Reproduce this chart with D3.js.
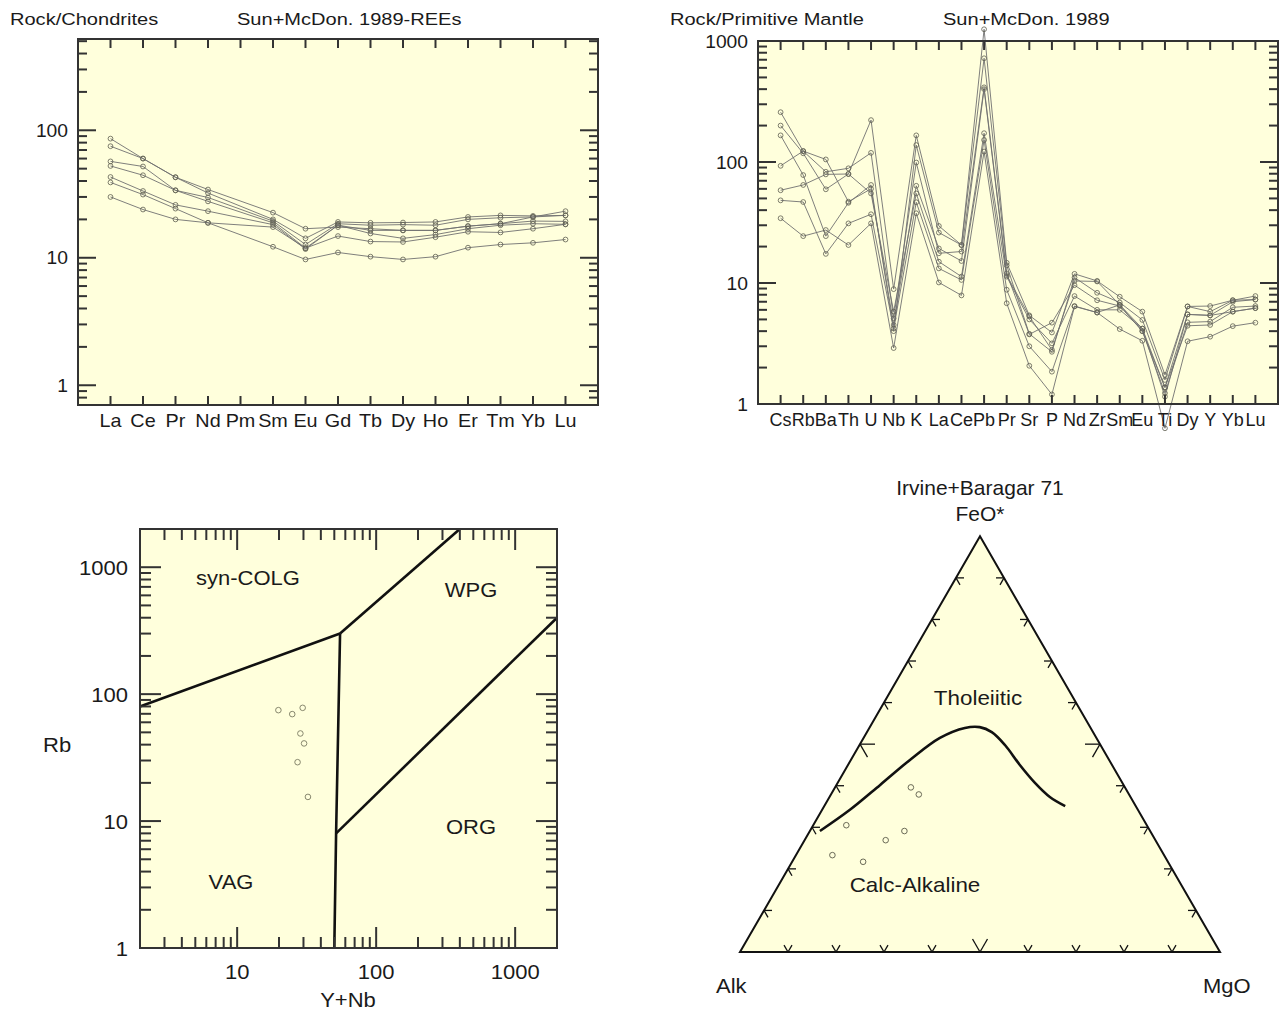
<!DOCTYPE html>
<html lang="en">
<head>
<meta charset="UTF-8">
<title>Geochemical diagrams</title>
<script src="https://d3js.org/d3.v7.min.js"></script>
<style>
  body { margin: 0; background: #fff; }
  text { font-family: "Liberation Sans", Arial, sans-serif; fill: #1a1a1a; }
</style>
</head>
<body>
<svg width="1288" height="1010"></svg>
<script>
// ---- REE spider (chondrite normalised) ----
const reeElements = ["La","Ce","Pr","Nd","Pm","Sm","Eu","Gd","Tb","Dy","Ho","Er","Tm","Yb","Lu"];
const reeA = [86, 60, 42.8, 34.3, null, 22.6, 16.9, 17.4, 16.9, 16.4, 16.4, 17.7, 18.5, 20.9, 23.2];
const reeB = [75, 60, 42.8, 32.2, null, 20.0, 14.2, 19.1, 18.8, 18.9, 19.1, 20.9, 21.5, 21.3, 21.5];
const reeC = [57, 52, 33.8, 29.7, null, 19.4, 12.7, 18.5, 18.0, 18.2, 18.0, 20.0, 20.6, 20.9, 21.5];
const reeD = [52.5, 44.4, 33.8, 27.7, null, 18.8, 11.9, 18.0, 16.4, 16.4, 16.4, 17.7, 18.5, 19.4, 19.3];
const reeE = [43, 33.4, 26, 23.2, null, 18.2, 11.7, 18.0, 15.5, 14.2, 15.2, 16.9, 18.0, 18.5, 18.3];
const reeF = [39, 31.3, 24.3, 18.8, null, 17.4, 11.9, 14.8, 13.4, 13.3, 14.5, 16.0, 15.8, 16.9, 18.3];
const reeG = [30, 23.9, 20, 18.8, null, 12.2, 9.7, 11.0, 10.2, 9.7, 10.2, 12.0, 12.7, 13.1, 13.9];
const reeYTicks = ["1", "10", "100"];

// ---- multi-element spider (primitive mantle normalised) ----
const pmElements = ["Cs","Rb","Ba","Th","U","Nb","K","La","Ce","Pb","Pr","Sr","P","Nd","Zr","Sm","Eu","Ti","Dy","Y","Yb","Lu"];
const pmA = [258, 123, 105, 47, 60, 4.5, 63.6, 19.3, 15.2, 400, 11.6, 5.3, 2.8, 10.4, 10.3, 6.6, 4.2, 1.37, 5.5, 5.4, 7.0, 7.3];
const pmB = [200, 118, 59.5, 79.6, 222, 8.9, 166, 29.6, 20.6, 1250, 14.7, 5.4, 3.9, 11.9, 10.4, 7.7, 5.8, 1.74, 6.4, 6.45, 7.2, 7.8];
const pmC = [166, 78, 24.4, 46, 64.6, 4.0, 138, 26.1, 20.6, 720, 14, 3.8, 2.7, 11.1, 8.3, 6.9, 4.95, 1.58, 6.4, 5.8, 7.2, 7.3];
const pmD = [93, 123, 83, 88.7, 119, 5.1, 99, 17.6, 18.2, 414, 12, 3.76, 4.7, 9.6, 7.2, 6.45, 4.0, 1.23, 4.73, 4.8, 6.3, 6.45];
const pmE = [58.4, 64.6, 79, 79.6, 55, 5.8, 55, 15, 11.3, 173, 11.3, 5.0, 3.17, 7.8, 6.0, 6.0, 4.2, 1.15, 5.5, 5.4, 5.8, 6.2];
const pmF = [48.2, 46.7, 17.4, 31.1, 37, 4.2, 46.5, 13.2, 10.6, 152, 8.8, 3.0, 1.85, 6.45, 5.7, 6.6, 4.0, 1.37, 4.43, 4.5, 5.8, 6.2];
const pmG = [34.3, 24.4, 27.4, 20.6, 31.1, 2.9, 37.7, 10.1, 7.9, 122, 6.8, 2.07, 1.2, 6.4, 5.7, 4.16, 3.33, 0.63, 3.3, 3.6, 4.4, 4.7];
const pmYTicks = ["1", "10", "100", "1000"];

// ---- Pearce et al. Rb vs Y+Nb ----
const sampleYNb = [19.8, 24.9, 29.6, 28.5, 30.3, 27.2, 32.3];
const sampleRb = [74.8, 69.6, 78, 49, 40.9, 29.1, 15.5];
const lineSynVag = [[2, 80], [55, 300]];
const lineSynWpg = [[55, 300], [400, 2000]];
const lineVagWpg = [[55, 300], [51.5, 8], [50, 1]];
const lineWpgOrg = [[51.5, 8], [2000, 400]];
const pearceTicks = ["1", "10", "100", "1000"];

// ---- AFM (Irvine & Baragar 1971), fractions ----
const afmA = [0.446, 0.438, 0.626, 0.512, 0.562, 0.692, 0.636];
const afmF = [0.396, 0.379, 0.305, 0.291, 0.269, 0.233, 0.217];
const afmM = [0.158, 0.183, 0.069, 0.197, 0.169, 0.076, 0.148];
const curveA = [0.688, 0.600, 0.508, 0.415, 0.326, 0.262, 0.229, 0.210, 0.199, 0.192, 0.182, 0.168, 0.147];
const curveF = [0.291, 0.342, 0.402, 0.462, 0.515, 0.539, 0.541, 0.529, 0.498, 0.450, 0.407, 0.373, 0.351];
const curveM = [0.021, 0.058, 0.091, 0.123, 0.159, 0.199, 0.229, 0.260, 0.303, 0.358, 0.411, 0.459, 0.502];

const svg = d3.select("svg");
const paper = "#ffffdc";
const frameCol = "#333";
const dataLine = "#707070";
const dataPt = "#5e5e50";

function txt(g, x, y, s, size, anchor, sx) {
  return g.append("text")
    .attr("transform", `translate(${x},${y}) scale(${sx || 1},1)`)
    .attr("text-anchor", anchor || "start")
    .attr("font-size", size)
    .text(s);
}

function logTicks(lo, hi) {
  const out = [];
  for (let e = Math.floor(Math.log10(lo)); e <= Math.ceil(Math.log10(hi)); e++) {
    for (let m = 1; m <= 9; m++) {
      const v = m * Math.pow(10, e);
      if (v >= lo * 0.999 && v <= hi * 1.001) out.push({ v: v, major: m === 1 });
    }
  }
  return out;
}

function tick(g, side, edge, p, len) {
  let x1, y1, x2, y2;
  if (side === "left") { x1 = edge; x2 = edge + len; y1 = y2 = p; }
  else if (side === "right") { x1 = edge; x2 = edge - len; y1 = y2 = p; }
  else if (side === "top") { y1 = edge; y2 = edge + len; x1 = x2 = p; }
  else { y1 = edge; y2 = edge - len; x1 = x2 = p; }
  g.append("line").attr("x1", x1).attr("y1", y1).attr("x2", x2).attr("y2", y2)
    .attr("stroke", frameCol).attr("stroke-width", 2);
}

// spider diagram panel
function spider(opts) {
  const g = svg.append("g");
  const x = d3.scalePoint().domain(opts.elements).range([opts.x0, opts.x1]).padding(1);
  const y = d3.scaleLog().domain(opts.ydom).range([opts.y1, opts.y0]);

  g.append("rect").attr("x", opts.x0).attr("y", opts.y0)
    .attr("width", opts.x1 - opts.x0).attr("height", opts.y1 - opts.y0)
    .attr("fill", paper);

  const line = d3.line().x(d => x(d.el)).y(d => y(d.v));
  opts.series.forEach(s => {
    const pts = s.map((v, i) => ({ el: opts.elements[i], v: v })).filter(d => d.v != null);
    g.append("path").datum(pts).attr("d", line)
      .attr("fill", "none").attr("stroke", dataLine).attr("stroke-width", 0.9);
    g.selectAll(null).data(pts).enter().append("circle")
      .attr("cx", d => x(d.el)).attr("cy", d => y(d.v)).attr("r", 2.4)
      .attr("fill", "none").attr("stroke", dataPt).attr("stroke-width", 0.8);
  });

  g.append("rect").attr("x", opts.x0).attr("y", opts.y0)
    .attr("width", opts.x1 - opts.x0).attr("height", opts.y1 - opts.y0)
    .attr("fill", "none").attr("stroke", frameCol).attr("stroke-width", 2);

  logTicks(opts.ydom[0], opts.ydom[1]).forEach(t => {
    tick(g, "left", opts.x0, y(t.v), t.major ? 18 : 9);
    tick(g, "right", opts.x1, y(t.v), t.major ? 18 : 9);
  });
  opts.elements.forEach(el => {
    tick(g, "top", opts.y0, x(el), 9);
    tick(g, "bottom", opts.y1, x(el), 9);
    txt(g, x(el), opts.y1 + 22, el, 18, "middle", opts.labelSx);
  });
  opts.yticks.forEach(t => {
    txt(g, opts.x0 - 10, y(+t) + 6.5, t, 18, "end", 1.07);
  });
  txt(g, opts.t1x, 25, opts.t1, 17, "start", 1.18);
  txt(g, opts.t2x, 25, opts.t2, 17, "start", 1.18);
}

spider({
  elements: reeElements, series: [reeA, reeB, reeC, reeD, reeE, reeF, reeG],
  x0: 78, x1: 598, y0: 39, y1: 405, ydom: [0.7, 520], yticks: reeYTicks, labelSx: 1.1,
  t1: "Rock/Chondrites", t1x: 10, t2: "Sun+McDon. 1989-REEs", t2x: 237
});

spider({
  elements: pmElements, series: [pmA, pmB, pmC, pmD, pmE, pmF, pmG],
  x0: 758, x1: 1278, y0: 41, y1: 404, ydom: [1, 1000], yticks: pmYTicks, labelSx: 1.0,
  t1: "Rock/Primitive Mantle", t1x: 670, t2: "Sun+McDon. 1989", t2x: 943
});

// ---- Pearce discrimination diagram ----
(function () {
  const g = svg.append("g");
  const x0 = 140, x1 = 557, y0 = 529, y1 = 948;
  const x = d3.scaleLog().domain([2, 2000]).range([x0, x1]);
  const y = d3.scaleLog().domain([1, 2000]).range([y1, y0]);

  g.append("rect").attr("x", x0).attr("y", y0).attr("width", x1 - x0).attr("height", y1 - y0)
    .attr("fill", paper);

  const line = d3.line().x(d => x(d[0])).y(d => y(d[1]));
  [lineSynVag, lineSynWpg, lineVagWpg, lineWpgOrg].forEach(l => {
    g.append("path").datum(l).attr("d", line)
      .attr("fill", "none").attr("stroke", "#111").attr("stroke-width", 2.6);
  });

  g.selectAll(null).data(sampleYNb).enter().append("circle")
    .attr("cx", d => x(d)).attr("cy", (d, i) => y(sampleRb[i])).attr("r", 2.8)
    .attr("fill", "none").attr("stroke", "#7a7a62").attr("stroke-width", 0.9);

  g.append("rect").attr("x", x0).attr("y", y0).attr("width", x1 - x0).attr("height", y1 - y0)
    .attr("fill", "none").attr("stroke", frameCol).attr("stroke-width", 2);

  logTicks(2, 2000).forEach(t => {
    tick(g, "top", y0, x(t.v), t.major ? 21 : 11);
    tick(g, "bottom", y1, x(t.v), t.major ? 21 : 11);
  });
  logTicks(1, 2000).forEach(t => {
    tick(g, "left", x0, y(t.v), t.major ? 21 : 11);
    tick(g, "right", x1, y(t.v), t.major ? 21 : 11);
  });
  pearceTicks.forEach(t => {
    txt(g, x0 - 12, y(+t) + 7.5, t, 20, "end", 1.1);
    if (+t >= 10) txt(g, x(+t), y1 + 31, t, 20, "middle", 1.1);
  });
  txt(g, 43, 752, "Rb", 20, "start", 1.1);
  txt(g, 348, 1007, "Y+Nb", 20, "middle", 1.1);
  txt(g, 196, 585, "syn-COLG", 20, "start", 1.1);
  txt(g, 471, 597, "WPG", 20, "middle", 1.1);
  txt(g, 471, 834, "ORG", 20, "middle", 1.1);
  txt(g, 231, 889, "VAG", 20, "middle", 1.1);
})();

// ---- AFM ternary ----
(function () {
  const g = svg.append("g");
  const side = 480;
  const tx = d3.scaleLinear().domain([0, 1]).range([740, 740 + side]);
  const ty = d3.scaleLinear().domain([0, 1]).range([952, 952 - side * Math.sqrt(3) / 2]);
  const pt = (a, f, m) => [tx(m + f / 2), ty(f)];

  const corners = [pt(1, 0, 0), pt(0, 1, 0), pt(0, 0, 1)];
  g.append("path").attr("d", "M" + corners.join("L") + "Z")
    .attr("fill", paper).attr("stroke", "#111").attr("stroke-width", 2);

  // ticks every 10 %
  const arm = (p, dx, dy, len) => g.append("line")
    .attr("x1", p[0]).attr("y1", p[1]).attr("x2", p[0] + dx * len).attr("y2", p[1] + dy * len)
    .attr("stroke", "#111").attr("stroke-width", 1.3);
  const c = Math.cos(Math.PI / 3), s = Math.sin(Math.PI / 3);
  d3.range(1, 10).forEach(k => {
    const f = k / 10, len = k === 5 ? 15 : 8;
    const pb = pt(1 - f, 0, f);
    arm(pb, c, -s, len); arm(pb, -c, -s, len);
    const pl = pt(1 - f, f, 0);
    arm(pl, 1, 0, len); arm(pl, c, s, len);
    const pr = pt(0, f, 1 - f);
    arm(pr, -1, 0, len); arm(pr, -c, s, len);
  });

  const curve = curveA.map((a, i) => pt(a, curveF[i], curveM[i]));
  g.append("path").datum(curve).attr("d", d3.line().curve(d3.curveCatmullRom))
    .attr("fill", "none").attr("stroke", "#111").attr("stroke-width", 2.6);

  g.selectAll(null).data(afmA).enter().append("circle")
    .attr("cx", (d, i) => pt(d, afmF[i], afmM[i])[0])
    .attr("cy", (d, i) => pt(d, afmF[i], afmM[i])[1])
    .attr("r", 2.8).attr("fill", "none").attr("stroke", "#5a5a48").attr("stroke-width", 0.9);

  txt(g, 980, 495, "Irvine+Baragar 71", 20, "middle", 1.05);
  txt(g, 980, 521, "FeO*", 20, "middle", 1.05);
  txt(g, 978, 705, "Tholeiitic", 20, "middle", 1.12);
  txt(g, 915, 892, "Calc-Alkaline", 20, "middle", 1.12);
  txt(g, 716, 993, "Alk", 20, "start", 1.1);
  txt(g, 1203, 993, "MgO", 20, "start", 1.1);
})();
</script>
</body>
</html>
